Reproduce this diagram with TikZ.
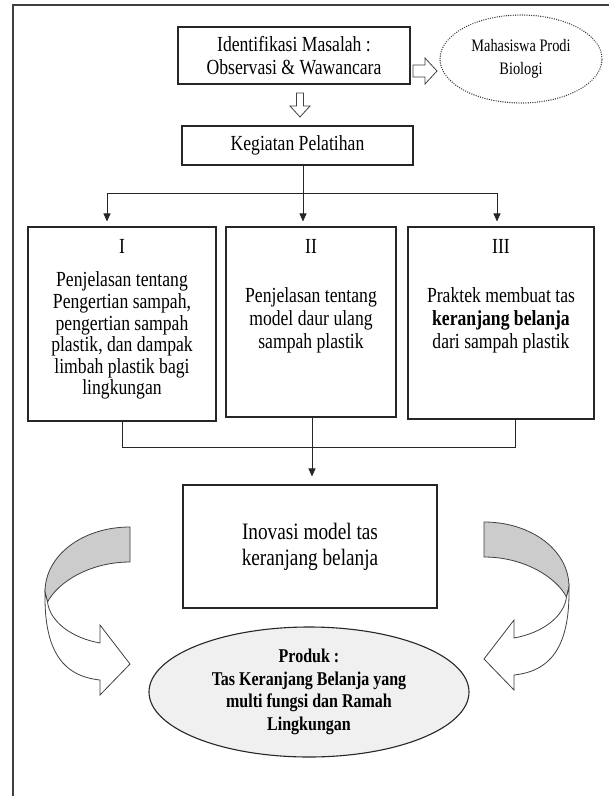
\documentclass[tikz,border=0pt]{standalone}
\usepackage{fontspec}
\setmainfont{Liberation Serif}[FakeStretch=0.82]
\usetikzlibrary{arrows.meta,shapes.geometric}
\begin{document}
\begin{tikzpicture}[x=1pt,y=-1pt,
  box/.style={draw=black!85, line width=1.1pt, inner sep=0pt, align=center, fill=white},
  conn/.style={draw=black!85, line width=0.9pt},
  arr/.style={conn, -{Triangle[length=8pt,width=7pt]}},
  hollow/.style={draw=black!75, line width=0.8pt, fill=white, line join=miter},
  band/.style={draw=black!75, line width=0.8pt, line join=miter},
]
\useasboundingbox (0,0) rectangle (609,796);
\fill[white] (0,0) rectangle (609,796);
% outer frame (only left and top edges visible)
\draw[black!75, line width=1.6pt] (13,800) -- (13,5) -- (612,5);

% top row
\node[box, minimum width=232pt, minimum height=57pt, font=\fontsize{21.5}{23.3}\selectfont] (idm) at (294,55.5) {Identifikasi Masalah :\\Observasi \& Wawancara};
\node[ellipse, draw=black!80, line width=1.4pt, dash pattern=on 0pt off 2.3pt, line cap=round, minimum width=162pt, minimum height=88pt, inner sep=0pt, align=center, font=\fontsize{17.5}{23}\selectfont] (mhs) at (521,59) {Mahasiswa Prodi\\Biologi};
\draw[hollow] (413,65) -- (425,65) -- (425,58) -- (437,71) -- (425,84) -- (425,77) -- (413,77) -- cycle;
\draw[hollow] (296.5,93) -- (303.5,93) -- (303.5,106) -- (310,106) -- (300,117) -- (290,106) -- (296.5,106) -- cycle;

\node[box, minimum width=231pt, minimum height=39pt, font=\fontsize{21.5}{23}\selectfont] (keg) at (297.5,145.5) {Kegiatan Pelatihan};

% three boxes
\node[box] (b1) at (122,324) {\begin{minipage}[c][194pt][t]{188pt}\centering\fontsize{21.5}{21.6}\selectfont
\vspace*{12.8pt}I\\[11.4pt]
Penjelasan tentang\\
Pengertian sampah,\\
pengertian sampah\\
plastik, dan dampak\\
limbah plastik bagi\\
lingkungan
\end{minipage}};
\node[box] (b2) at (311,322) {\begin{minipage}[c][190pt][t]{170pt}\centering\fontsize{21.5}{23}\selectfont
\vspace*{12.8pt}II\\[25.5pt]
Penjelasan tentang\\
model daur ulang\\
sampah plastik
\end{minipage}};
\node[box] (b3) at (501,323) {\begin{minipage}[c][192pt][t]{186pt}\centering\fontsize{21.5}{23}\selectfont
\vspace*{12.8pt}III\\[25.5pt]
Praktek membuat tas\\
\textbf{keranjang belanja}\\
dari sampah plastik
\end{minipage}};

% connectors from Kegiatan
\coordinate (j0) at (303,193);
\coordinate (h1) at (107,193);
\coordinate (h3) at (497,193);
\draw[conn] (keg.south -| j0) -- (j0);
\draw[conn] (h1) -- (h3);
\draw[arr, shorten >=5pt] (h1) -- (h1 |- b1.north);
\draw[arr, shorten >=5pt] (j0) -- (j0 |- b2.north);
\draw[arr, shorten >=5pt] (h3) -- (h3 |- b3.north);

% innovation box
\node[box, minimum width=254pt, minimum height=123pt, font=\fontsize{23.5}{26}\selectfont] (ino) at (310,546.5) {Inovasi model tas\\keranjang belanja};

\coordinate (m1) at (122,447);
\coordinate (m3) at (515,447);
\draw[conn] (b1.south -| m1) -- (m1) -- (m3) -- (m3 |- b3.south);
\coordinate (m2) at (312,417);
\draw[arr, shorten >=8pt] (m2) -- (m2 |- ino.north);

% product ellipse
\node[ellipse, draw=black!85, line width=1.1pt, fill=black!6, minimum width=320pt, minimum height=130pt, inner sep=0pt, align=center, font={\bfseries\fontsize{19.5}{22.7}\selectfont}] (prod) at (309,692) {Produk :\\Tas Keranjang Belanja yang\\multi fungsi dan Ramah\\Lingkungan};

% curved arrows
\begin{scope}
\draw[band, fill=black!20] (130,527) .. controls (83,527) and (45,555) .. (45,592) -- (47.5,602) .. controls (58,582) and (90,562) .. (130,562) -- cycle;
\draw[band, fill=white] (45,592) .. controls (44,650) and (62,676) .. (100,680) -- (100,695) -- (130,664) -- (100,625) -- (100,643) .. controls (72,638) and (50,622) .. (47.5,602) -- cycle;
\end{scope}
\begin{scope}[xshift=614pt, xscale=-1, yshift=5pt]
\draw[band, fill=black!20] (130,527) .. controls (83,527) and (45,555) .. (45,592) -- (47.5,602) .. controls (58,582) and (90,562) .. (130,562) -- cycle;
\draw[band, fill=white] (45,592) .. controls (44,650) and (62,676) .. (100,680) -- (100,695) -- (130,664) -- (100,625) -- (100,643) .. controls (72,638) and (50,622) .. (47.5,602) -- cycle;
\end{scope}
\end{tikzpicture}
\end{document}
